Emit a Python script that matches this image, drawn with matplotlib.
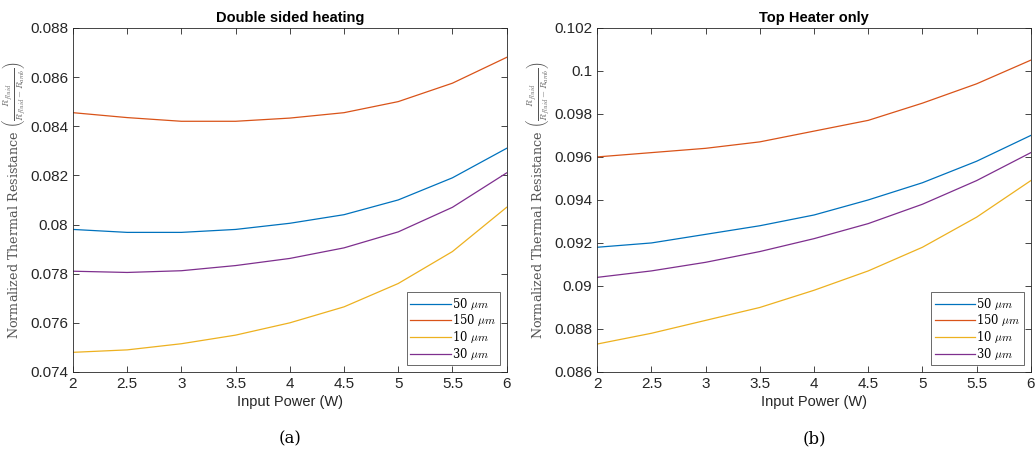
import numpy as np
import matplotlib
matplotlib.use("Agg")
import matplotlib.pyplot as plt

plt.rcParams["font.family"] = ["Liberation Sans", "DejaVu Sans"]
plt.rcParams["mathtext.fontset"] = "cm"

power = [2, 2.5, 3, 3.5, 4, 4.5, 5, 5.5, 6]
labels = [r"50 $\mu m$", r"150 $\mu m$", r"10 $\mu m$", r"30 $\mu m$"]
colors = ["#0072BD", "#D95319", "#EDB120", "#7E2F8E"]

# Double sided heating
ds_50 = [0.0798, 0.07968, 0.07968, 0.0798, 0.08005, 0.0804, 0.0810, 0.0819, 0.0831]
ds_150 = [0.08455, 0.08435, 0.0842, 0.0842, 0.08433, 0.08455, 0.0850, 0.08575, 0.0868]
ds_10 = [0.0748, 0.0749, 0.07515, 0.0755, 0.0760, 0.07665, 0.0776, 0.0789, 0.0807]
ds_30 = [0.0781, 0.07805, 0.07812, 0.07833, 0.07862, 0.07905, 0.0797, 0.0807, 0.0821]

# Top heater only
th_50 = [0.0918, 0.0920, 0.0924, 0.0928, 0.0933, 0.0940, 0.0948, 0.0958, 0.0970]
th_150 = [0.0960, 0.0962, 0.0964, 0.0967, 0.0972, 0.0977, 0.0985, 0.0994, 0.1005]
th_10 = [0.0873, 0.0878, 0.0884, 0.0890, 0.0898, 0.0907, 0.0918, 0.0932, 0.0949]
th_30 = [0.0904, 0.0907, 0.0911, 0.0916, 0.0922, 0.0929, 0.0938, 0.0949, 0.0962]

ylabel = r"Normalized Thermal Resistance $\left(\frac{R_{fluid}}{R_{fluid}-R_{amb}}\right)$"


def draw_panel(ax, series, title, ylim, yticks, yticklabels, caption):
    for vals, lab, col in zip(series, labels, colors):
        ax.plot(power, vals, color=col, linewidth=0.9, label=lab)
    ax.set_xlim(2, 6)
    ax.set_ylim(*ylim)
    ax.set_xticks(power)
    ax.set_xticklabels(["2", "2.5", "3", "3.5", "4", "4.5", "5", "5.5", "6"])
    ax.set_yticks(yticks)
    ax.set_yticklabels(yticklabels)
    ax.tick_params(direction="in", top=True, right=True, labelsize=11,
                   colors="#262626", length=4, width=0.6)
    for s in ax.spines.values():
        s.set_color("#262626")
        s.set_linewidth(0.6)
    ax.set_title(title, fontsize=10.5, fontweight="bold", pad=4)
    ax.set_xlabel("Input Power (W)", fontsize=10.5, color="#262626", labelpad=3)
    ax.set_ylabel(ylabel, fontsize=9.2, color="#555555", family="serif")
    ax.yaxis.set_label_coords(-0.104, 0.5)
    leg = ax.legend(loc="lower right", frameon=True, fancybox=False,
                    edgecolor="#262626", borderaxespad=0.6, handlelength=3.5,
                    handletextpad=0.1, labelspacing=0.05, borderpad=0.3,
                    prop={"family": "serif", "size": 8.3})
    leg.get_frame().set_linewidth(0.6)
    ax.text(0.5, -0.17, caption, transform=ax.transAxes, ha="center", va="top",
            fontsize=12, family="serif")


fig = plt.figure(figsize=(10.35, 4.57), dpi=100)
ax1 = fig.add_axes([0.0705, 0.186, 0.419, 0.753])
ax2 = fig.add_axes([0.577, 0.186, 0.419, 0.753])

draw_panel(ax1, [ds_50, ds_150, ds_10, ds_30], "Double sided heating",
           (0.074, 0.088), np.arange(0.074, 0.0881, 0.002),
           ["0.074", "0.076", "0.078", "0.08", "0.082", "0.084", "0.086", "0.088"], "(a)")
draw_panel(ax2, [th_50, th_150, th_10, th_30], "Top Heater only",
           (0.086, 0.102), np.arange(0.086, 0.1021, 0.002),
           ["0.086", "0.088", "0.09", "0.092", "0.094", "0.096", "0.098", "0.1", "0.102"], "(b)")

fig.savefig("out.png", dpi=100)
